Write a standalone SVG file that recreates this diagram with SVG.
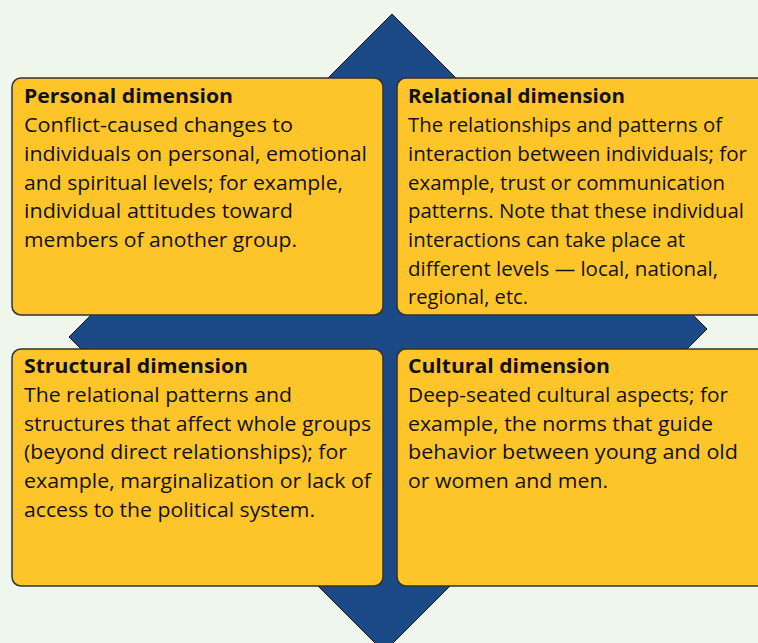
<svg xmlns="http://www.w3.org/2000/svg" width="758" height="643" viewBox="0 0 758 643">
<style>
.box{fill:#FEC52A;stroke:#33322a;stroke-width:1.5}
.t{font-family:"Open Sans","Noto Sans","Liberation Sans",sans-serif;font-size:19.5px;fill:#111111}
.h{font-weight:bold}
</style>
<rect x="0" y="0" width="758" height="643" fill="#EFF6EC"/>
<g id="diamond">
<polygon points="392,14 707,329 384,652 69,337" fill="#1C4A86" stroke="#161616" stroke-width="1"/>
</g>
<g id="personal">
<rect class="box" x="12" y="78" width="371" height="237" rx="9"/>
<text class="t h" x="24" y="103" textLength="209" lengthAdjust="spacingAndGlyphs">Personal dimension</text>
<text class="t" x="24" y="132" textLength="269" lengthAdjust="spacingAndGlyphs">Conflict-caused changes to</text>
<text class="t" x="24" y="161" textLength="343" lengthAdjust="spacingAndGlyphs">individuals on personal, emotional</text>
<text class="t" x="24" y="190" textLength="319" lengthAdjust="spacingAndGlyphs">and spiritual levels; for example,</text>
<text class="t" x="24" y="218" textLength="269" lengthAdjust="spacingAndGlyphs">individual attitudes toward</text>
<text class="t" x="24" y="247" textLength="273" lengthAdjust="spacingAndGlyphs">members of another group.</text>
</g>
<g id="relational">
<rect class="box" x="397" y="78" width="380" height="237" rx="9"/>
<text class="t h" x="408" y="103" textLength="217" lengthAdjust="spacingAndGlyphs">Relational dimension</text>
<text class="t" x="408" y="132" textLength="314" lengthAdjust="spacingAndGlyphs">The relationships and patterns of</text>
<text class="t" x="408" y="161" textLength="339" lengthAdjust="spacingAndGlyphs">interaction between individuals; for</text>
<text class="t" x="408" y="190" textLength="317" lengthAdjust="spacingAndGlyphs">example, trust or communication</text>
<text class="t" x="408" y="218" textLength="336" lengthAdjust="spacingAndGlyphs">patterns. Note that these individual</text>
<text class="t" x="408" y="247" textLength="277" lengthAdjust="spacingAndGlyphs">interactions can take place at</text>
<text class="t" x="408" y="276" textLength="310" lengthAdjust="spacingAndGlyphs">different levels — local, national,</text>
<text class="t" x="408" y="304" textLength="120" lengthAdjust="spacingAndGlyphs">regional, etc.</text>
</g>
<g id="structural">
<rect class="box" x="12" y="349" width="371" height="237" rx="9"/>
<text class="t h" x="24" y="373" textLength="224" lengthAdjust="spacingAndGlyphs">Structural dimension</text>
<text class="t" x="24" y="402" textLength="268" lengthAdjust="spacingAndGlyphs">The relational patterns and</text>
<text class="t" x="24" y="431" textLength="347" lengthAdjust="spacingAndGlyphs">structures that affect whole groups</text>
<text class="t" x="24" y="459" textLength="323" lengthAdjust="spacingAndGlyphs">(beyond direct relationships); for</text>
<text class="t" x="24" y="488" textLength="347" lengthAdjust="spacingAndGlyphs">example, marginalization or lack of</text>
<text class="t" x="24" y="517" textLength="291" lengthAdjust="spacingAndGlyphs">access to the political system.</text>
</g>
<g id="cultural">
<rect class="box" x="397" y="349" width="380" height="237" rx="9"/>
<text class="t h" x="408" y="373" textLength="202" lengthAdjust="spacingAndGlyphs">Cultural dimension</text>
<text class="t" x="408" y="402" textLength="320" lengthAdjust="spacingAndGlyphs">Deep-seated cultural aspects; for</text>
<text class="t" x="408" y="431" textLength="305" lengthAdjust="spacingAndGlyphs">example, the norms that guide</text>
<text class="t" x="408" y="459" textLength="330" lengthAdjust="spacingAndGlyphs">behavior between young and old</text>
<text class="t" x="408" y="488" textLength="200" lengthAdjust="spacingAndGlyphs">or women and men.</text>
</g>
<g id="connectors"></g>
</svg>
